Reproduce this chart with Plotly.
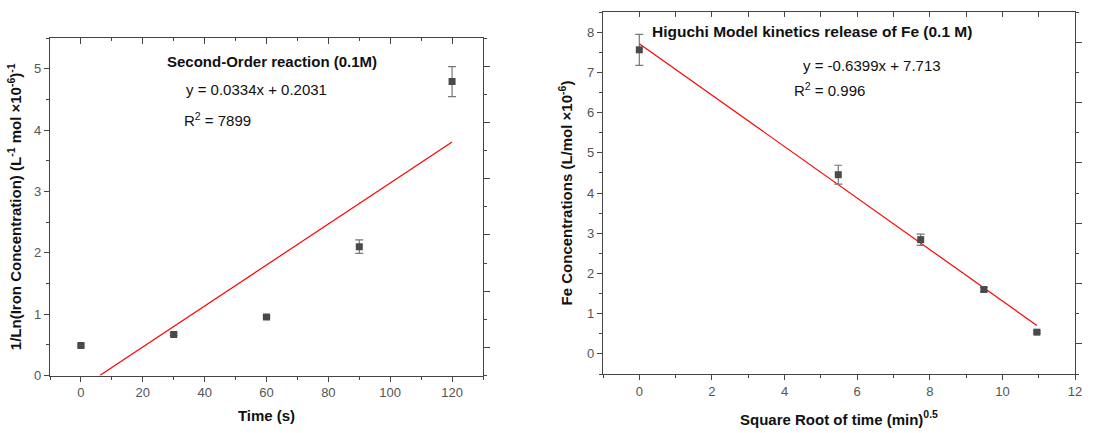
import plotly.graph_objects as go

# ---- Second-order reaction data (0.1 M) ----
time_s = [0, 30, 60, 90, 120]
inv_ln_conc = [0.49, 0.67, 0.955, 2.10, 4.79]
inv_ln_err = [0.02, 0.02, 0.02, 0.11, 0.245]
so_slope = 0.0334
so_intercept = -0.2031

# ---- Higuchi model data (0.1 M) ----
sqrt_time = [0, 5.48, 7.75, 9.49, 10.95]
fe_conc = [7.56, 4.455, 2.84, 1.60, 0.54]
fe_err = [0.385, 0.235, 0.14, 0.05, 0.03]
hig_slope = -0.6399
hig_intercept = 7.713

W, H = 1112, 433
FONT = "Liberation Sans, Arial, sans-serif"
AXC = "#444444"
TICKC = "#555555"
MARKC = "#4a4a4a"


def px_x(p):
    return p / W


def px_y(p):
    return 1 - p / H


fig = go.Figure()

# fitted line for the second-order plot, clipped at y = 0
x0 = -so_intercept / so_slope
so_fit_x = [x0, time_s[-1]]
so_fit_y = [so_slope * x + so_intercept for x in so_fit_x]

fig.add_trace(go.Scatter(x=so_fit_x, y=so_fit_y, mode="lines",
                         line=dict(color="#ff0000", width=1.2),
                         xaxis="x", yaxis="y", showlegend=False))
fig.add_trace(go.Scatter(x=time_s, y=inv_ln_conc, mode="markers",
                         marker=dict(symbol="square", size=7, color=MARKC),
                         error_y=dict(type="data", array=inv_ln_err, color="#777777",
                                      thickness=1.2, width=4),
                         xaxis="x", yaxis="y", showlegend=False))

hig_fit_x = [sqrt_time[0], sqrt_time[-1]]
hig_fit_y = [hig_slope * x + hig_intercept for x in hig_fit_x]
fig.add_trace(go.Scatter(x=hig_fit_x, y=hig_fit_y, mode="lines",
                         line=dict(color="#ff0000", width=1.2),
                         xaxis="x2", yaxis="y2", showlegend=False))
fig.add_trace(go.Scatter(x=sqrt_time, y=fe_conc, mode="markers",
                         marker=dict(symbol="square", size=7, color=MARKC),
                         error_y=dict(type="data", array=fe_err, color="#777777",
                                      thickness=1.2, width=4),
                         xaxis="x2", yaxis="y2", showlegend=False))

# panel geometry (pixels)
L1, R1, T1, B1 = 50, 483, 38, 375.5
L2, R2, T2, B2 = 603, 1075, 12, 374

tickfont = dict(family=FONT, size=13, color=TICKC)
titlefont = dict(family=FONT, size=15, color="#111111")

common_main = dict(showgrid=False, zeroline=False, showline=True, linecolor=AXC,
                   linewidth=1.3, ticks="outside", ticklen=5, tickwidth=1.2,
                   tickcolor=AXC, tickfont=tickfont, automargin=False)
common_deco = dict(showgrid=False, zeroline=False, showline=True, linecolor=AXC,
                   linewidth=1.3, showticklabels=False, tickwidth=1.2, tickcolor=AXC,
                   automargin=False)

fig.update_layout(
    width=W, height=H, autosize=False,
    margin=dict(l=0, r=0, t=0, b=0),
    paper_bgcolor="white", plot_bgcolor="white",
    font=dict(family=FONT),
    # left panel
    xaxis=dict(domain=[px_x(L1), px_x(R1)], range=[-10, 130], dtick=20, anchor="y",
               minor=dict(dtick=10, ticks="outside", ticklen=3, tickcolor=AXC),
               title=dict(text="<b>Time (s)</b>", font=titlefont, standoff=11),
               **common_main),
    yaxis=dict(domain=[px_y(B1), px_y(T1)], range=[0, 5.5], dtick=1, anchor="x",
               minor=dict(dtick=0.5, ticks="outside", ticklen=3, tickcolor=AXC),
               title=dict(text="<b>1/Ln(Iron Concentration) (L<sup>-1</sup> mol ×10<sup>-6</sup>)<sup>-1</sup></b>",
                          font=titlefont, standoff=8),
               **common_main),
    xaxis3=dict(overlaying="x", side="top", anchor="y", range=[-10, 130], dtick=20,
                ticks="inside", ticklen=6,
                minor=dict(dtick=10, ticks="inside", ticklen=3, tickcolor=AXC),
                **common_deco),
    yaxis3=dict(overlaying="y", side="right", anchor="x", range=[-0.5, 5.5], dtick=1,
                ticks="outside", ticklen=6,
                minor=dict(dtick=0.5, ticks="outside", ticklen=3, tickcolor=AXC),
                **common_deco),
    # right panel
    xaxis2=dict(domain=[px_x(L2), px_x(R2)], range=[-1, 12], dtick=2, anchor="y2",
                minor=dict(dtick=1, ticks="outside", ticklen=3, tickcolor=AXC),
                title=dict(text="<b>Square Root of time (min)<sup>0.5</sup></b>",
                           font=titlefont, standoff=16),
                **common_main),
    yaxis2=dict(domain=[px_y(B2), px_y(T2)], range=[-0.5, 8.5], dtick=1, anchor="x2",
                minor=dict(dtick=0.5, ticks="outside", ticklen=3, tickcolor=AXC),
                title=dict(text="<b>Fe Concentrations (L/mol ×10<sup>-6</sup>)</b>",
                           font=titlefont, standoff=10),
                **common_main),
    xaxis4=dict(overlaying="x2", side="top", anchor="y2", range=[-1, 12], dtick=1,
                ticks="inside", ticklen=5, **common_deco),
    yaxis4=dict(overlaying="y2", side="right", anchor="x2", range=[-0.5, 5.5], dtick=1,
                ticks="outside", ticklen=6,
                minor=dict(dtick=0.5, ticks="outside", ticklen=3, tickcolor=AXC),
                **common_deco),
)

# invisible traces so the decorative axes are drawn
fig.add_trace(go.Scatter(x=[None], y=[None], xaxis="x3", yaxis="y3", showlegend=False, hoverinfo="skip"))
fig.add_trace(go.Scatter(x=[None], y=[None], xaxis="x4", yaxis="y4", showlegend=False, hoverinfo="skip"))

annos = [
    dict(text="<b>Second-Order reaction (0.1M)</b>", x=272, y=61, xanchor="center", size=15),
    dict(text="y = 0.0334x + 0.2031", x=184, y=89, xanchor="left", size=15),
    dict(text="R<sup>2</sup> = 7899", x=182, y=119, xanchor="left", size=15),
    dict(text="<b>Higuchi Model kinetics release of Fe (0.1 M)</b>", x=812, y=32, xanchor="center", size=15.5),
    dict(text="y = -0.6399x + 7.713", x=801, y=66, xanchor="left", size=15),
    dict(text="R<sup>2</sup> = 0.996", x=792, y=89, xanchor="left", size=15),
]
for a in annos:
    fig.add_annotation(text=a["text"], x=px_x(a["x"]), y=px_y(a["y"]), xref="paper", yref="paper",
                       xanchor=a["xanchor"], yanchor="middle", showarrow=False,
                       font=dict(family=FONT, size=a["size"], color="#111111"))

fig.write_html("out.html")
